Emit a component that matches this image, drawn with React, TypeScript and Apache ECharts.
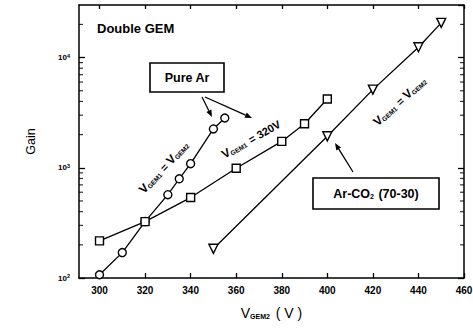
import React, { useEffect, useRef } from 'react';
import * as echarts from 'echarts';

// Axis ranges and tick values
const X_MIN = 291;
const X_MAX = 460;
const xTickValues = [300, 320, 340, 360, 380, 400, 420, 440, 460];
const GAIN_MIN = 100;
const GAIN_MAX = 30000;
const gainMinorTicks = [
  200, 300, 400, 500, 600, 700, 800, 900,
  2000, 3000, 4000, 5000, 6000, 7000, 8000, 9000,
  20000,
];

// Pure Ar, V_GEM1 = V_GEM2
const pureArEqualVoltage = [300, 310, 320, 330, 335, 340, 350, 355];
const pureArEqualGain = [107, 170, 325, 570, 795, 1090, 2250, 2830];

// Pure Ar, V_GEM1 = 320 V
const pureArFixedVoltage = [300, 320, 340, 360, 380, 390, 400];
const pureArFixedGain = [217, 325, 537, 990, 1735, 2510, 4210];

// Ar-CO2 (70-30), V_GEM1 = V_GEM2
const arCo2Voltage = [350, 400, 420, 440, 450];
const arCo2Gain = [184, 1930, 5120, 12400, 20650];

const FONT = "'Liberation Sans', Arial, Helvetica, sans-serif";
const INK = '#000';

const pairs = (xs: number[], ys: number[]) => xs.map((x, i) => [x, ys[i]]);

const subRich = {
  v: { fontSize: 12, fontFamily: FONT, fontWeight: 'bold', color: INK, verticalAlign: 'bottom' },
  s: { fontSize: 6.5, fontFamily: FONT, fontWeight: 'bold', color: INK, verticalAlign: 'bottom', padding: [0, 1, 0, 0] },
  t: { fontSize: 11, fontFamily: FONT, fontWeight: 'bold', color: INK, verticalAlign: 'bottom' },
};

function arrow(x0: number, y0: number, x1: number, y1: number) {
  const a = Math.atan2(y1 - y0, x1 - x0);
  const L = 7;
  const W = 2.8;
  const bx = x1 - L * Math.cos(a);
  const by = y1 - L * Math.sin(a);
  return [
    { type: 'line', shape: { x1: x0, y1: y0, x2: bx, y2: by }, style: { stroke: INK, lineWidth: 1.3 } },
    {
      type: 'polygon',
      shape: { points: [[x1, y1], [bx + W * Math.sin(a), by - W * Math.cos(a)], [bx - W * Math.sin(a), by + W * Math.cos(a)]] },
      style: { fill: INK },
    },
  ];
}

function richLabel(x: number, y: number, deg: number, text: string) {
  return {
    type: 'text',
    x,
    y,
    rotation: (deg * Math.PI) / 180,
    style: {
      text,
      rich: subRich,
      align: 'center',
      verticalAlign: 'middle',
      textAlign: 'center',
      textVerticalAlign: 'middle',
      fill: INK,
    },
  };
}

function boxedLabel(x: number, y: number, w: number, h: number, text: string) {
  return [
    { type: 'rect', shape: { x, y, width: w, height: h }, style: { fill: '#fff', stroke: INK, lineWidth: 1.6 } },
    {
      type: 'text',
      x: x + w / 2,
      y: y + h / 2,
      style: {
        text,
        rich: {
          t: { fontSize: 12.5, fontFamily: FONT, fontWeight: 'bold', color: INK, verticalAlign: 'bottom' },
          s: { fontSize: 7, fontFamily: FONT, fontWeight: 'bold', color: INK, verticalAlign: 'bottom', padding: [0, 1, 0, 0] },
        },
        align: 'center',
        verticalAlign: 'middle',
        textAlign: 'center',
        textVerticalAlign: 'middle',
        fill: INK,
      },
    },
  ];
}

const powerLabel = (v: number) => {
  const e = Math.round(Math.log10(v));
  if (Math.abs(Math.pow(10, e) - v) > 1e-6 * v) return '';
  return `{b|10}{e|${e}}`;
};

const seriesBase = {
  type: 'line',
  xAxisIndex: 0,
  yAxisIndex: 0,
  lineStyle: { color: INK, width: 1.3 },
  itemStyle: { color: '#fff', borderColor: INK, borderWidth: 1.4 },
  emphasis: { disabled: true },
  z: 3,
};

// short tick marks for the 2..9 subdivisions of each decade, placed on a frame edge
const minorTickSeries = (xEdge: number, offset: number) => ({
  type: 'scatter',
  xAxisIndex: 0,
  yAxisIndex: 0,
  silent: true,
  clip: false,
  z: 10,
  symbol: 'rect',
  symbolSize: [4, 1.2],
  symbolOffset: [offset, 0],
  itemStyle: { color: INK },
  emphasis: { disabled: true },
  data: gainMinorTicks.map((v) => [xEdge, v]),
});

export default function App() {
  const ref = useRef<HTMLDivElement>(null);

  useEffect(() => {
    document.body.style.margin = '0';
    if (!ref.current) return;
    const chart = echarts.init(ref.current, undefined, { renderer: 'svg' });

    const axisLine = { show: true, onZero: false, lineStyle: { color: INK, width: 1.5 } };

    chart.setOption({
      animation: false,
      backgroundColor: '#fff',
      grid: { left: 79, right: 9, top: 5, bottom: 50, containLabel: false, outerBoundsMode: 'none' },
      xAxis: [
        {
          type: 'value',
          position: 'bottom',
          min: X_MIN,
          max: X_MAX,
          axisLine,
          axisTick: { inside: true, length: 5, customValues: xTickValues, lineStyle: { color: INK, width: 1.3 } },
          axisLabel: {
            customValues: xTickValues,
            color: INK,
            fontSize: 10,
            fontWeight: 'bold',
            fontFamily: FONT,
            margin: 7,
          },
          splitLine: { show: false },
          name: '{v|V}{s|GEM2}{t| ( V )}',
          nameLocation: 'middle',
          nameGap: 28,
          nameTextStyle: {
            rich: {
              v: { fontSize: 14, fontFamily: FONT, color: INK, verticalAlign: 'bottom' },
              s: { fontSize: 7, fontFamily: FONT, fontWeight: 'bold', color: INK, verticalAlign: 'bottom', padding: [0, 2, 0, 0] },
              t: { fontSize: 14, fontFamily: FONT, color: INK, verticalAlign: 'bottom' },
            },
          },
        },
        {
          type: 'value',
          position: 'top',
          min: X_MIN,
          max: X_MAX,
          axisLine,
          axisTick: { inside: true, length: 4, customValues: xTickValues, lineStyle: { color: INK, width: 1.3 } },
          axisLabel: { show: false },
          splitLine: { show: false },
        },
      ],
      yAxis: [
        {
          type: 'log',
          logBase: 10,
          position: 'left',
          min: GAIN_MIN,
          max: GAIN_MAX,
          axisLine,
          axisTick: { inside: true, length: 6, lineStyle: { color: INK, width: 1.3 } },
          axisLabel: {
            formatter: powerLabel,
            showMaxLabel: false,
            margin: 9,
            rich: {
              b: { fontSize: 8, fontFamily: FONT, fontWeight: 'bold', color: INK },
              e: { fontSize: 5.5, fontFamily: FONT, fontWeight: 'bold', color: INK, verticalAlign: 'top', padding: [0, 0, 4, 0] },
            },
          },
          splitLine: { show: false },
          name: 'Gain',
          nameLocation: 'middle',
          nameGap: 42,
          nameTextStyle: { fontSize: 12.5, fontFamily: FONT, color: INK },
        },
        {
          type: 'log',
          logBase: 10,
          position: 'right',
          min: GAIN_MIN,
          max: GAIN_MAX,
          axisLine,
          axisTick: { inside: true, length: 6, lineStyle: { color: INK, width: 1.3 } },
          axisLabel: { show: false },
          splitLine: { show: false },
        },
      ],
      series: [
        minorTickSeries(X_MIN, 2),
        minorTickSeries(X_MAX, -2),
        {
          ...seriesBase,
          name: 'Pure Ar, VGEM1 = VGEM2',
          symbol: 'circle',
          symbolSize: 8,
          data: pairs(pureArEqualVoltage, pureArEqualGain),
        },
        {
          ...seriesBase,
          name: 'Pure Ar, VGEM1 = 320V',
          symbol: 'rect',
          symbolSize: 8,
          data: pairs(pureArFixedVoltage, pureArFixedGain),
        },
        {
          ...seriesBase,
          name: 'Ar-CO2 (70-30)',
          symbol: 'triangle',
          symbolRotate: 180,
          symbolSize: 9,
          data: pairs(arCo2Voltage, arCo2Gain),
        },
      ],
      graphic: [
        {
          type: 'text',
          x: 97,
          y: 28,
          style: {
            text: 'Double GEM',
            fontSize: 13,
            fontWeight: 'bold',
            fontFamily: FONT,
            fill: INK,
            verticalAlign: 'middle',
            textVerticalAlign: 'middle',
          },
        },
        ...boxedLabel(150, 63, 74, 29, '{t|Pure Ar}'),
        ...boxedLabel(313, 178, 126, 31, '{t|Ar-CO}{s|2}{t| (70-30)}'),
        ...arrow(202, 97, 212, 117),
        ...arrow(205, 97, 252, 118),
        ...arrow(353, 172, 335, 143),
        richLabel(164, 167, 47, '{v|V}{s|GEM1}{t| = }{v|V}{s|GEM2}'),
        richLabel(251, 139, 30, '{v|V}{s|GEM1}{t| = 320V}'),
        richLabel(400, 101, 42, '{v|V}{s|GEM1}{t| = }{v|V}{s|GEM2}'),
      ],
    });

    return () => chart.dispose();
  }, []);

  return <div ref={ref} style={{ width: 473, height: 328 }} />;
}
